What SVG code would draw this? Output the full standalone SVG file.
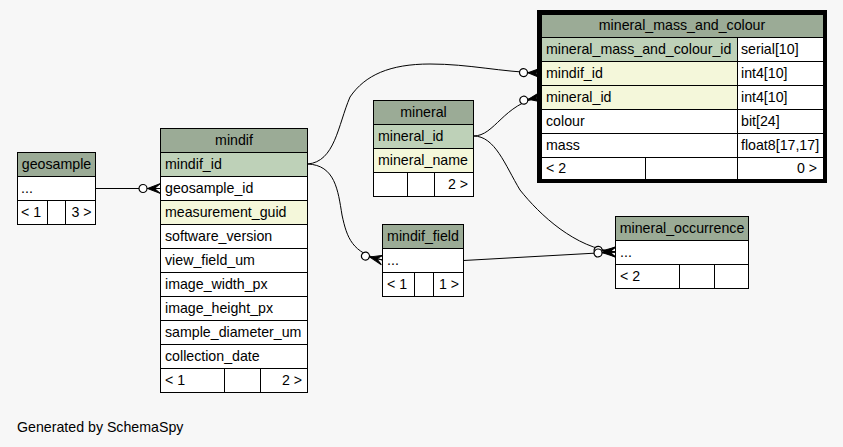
<svg xmlns="http://www.w3.org/2000/svg" width="843" height="447" viewBox="0 0 843 447">
  <style>
    rect.cell { stroke: #000; stroke-width: 1; }
    .hd { fill: #9bab96; }
    .pk { fill: #bed1b8; }
    .ix { fill: #f4f7da; }
    .bd { fill: #ffffff; }
    text { font-family: "Liberation Sans", Arial, Helvetica, sans-serif; font-size: 14.2px; fill: #000; }
    .c { text-anchor: middle; }
    .r { text-anchor: end; }
    .edge { fill: none; stroke: #000; stroke-width: 1; marker-end: url(#crowodot); }
  </style>
  <defs>
    <!-- zero-or-many end: open circle followed by crow's foot -->
    <marker id="crowodot" markerUnits="userSpaceOnUse" viewBox="0 0 24 14" markerWidth="24" markerHeight="14" refX="23" refY="7" orient="auto" overflow="visible">
      <path d="M10,7 L23,2 L17,7 L23,12 Z" fill="#000" stroke="#000" stroke-width="1"/>
      <path d="M10,7 H23" stroke="#000" stroke-width="1"/>
      <circle cx="5.5" cy="7" r="4" fill="#fff" stroke="#000" stroke-width="1.2"/>
    </marker>
  </defs>

  <rect x="0" y="0" width="843" height="447" fill="#f7f7f7"/>

  <!-- relationships -->
  <g id="connectors">
    <path class="edge" d="M95.5,188.5 L160.5,188.5"/>
    <path class="edge" d="M307.5,164 C335,165 338,190 342,215 C347,238 352,253 382.5,260"/>
    <path class="edge" d="M307.5,164 C335,162 338,125 350,97 C365,75 390,64 430,64 C470,64 500,72 541,73"/>
    <path class="edge" d="M473.5,136 C495,136 503,104 541,97"/>
    <path class="edge" d="M473.5,136 C495,136 505,165 520,190 C540,215 575,248 615.5,252"/>
    <path class="edge" d="M463.5,260.5 L615.5,252"/>
  </g>

  <g id="geosample">
    <rect class="cell hd" x="17.5" y="152.5" width="78" height="24"/>
    <text class="c" x="56.5" y="168.5">geosample</text>
    <rect class="cell bd" x="17.5" y="176.5" width="78" height="24"/>
    <text x="21" y="192.5">...</text>
    <rect class="cell bd" x="17.5" y="200.5" width="30" height="24"/>
    <rect class="cell bd" x="47.5" y="200.5" width="18" height="24"/>
    <rect class="cell bd" x="65.5" y="200.5" width="30" height="24"/>
    <text x="21" y="216.5">&lt; 1</text>
    <text class="r" x="91.5" y="216.5">3 &gt;</text>
  </g>

  <g id="mindif">
    <rect class="cell hd" x="160.5" y="128.5" width="147" height="24"/>
    <text class="c" x="234" y="144.5">mindif</text>
    <rect class="cell pk" x="160.5" y="152.5" width="147" height="24"/>
    <text x="165" y="168.5">mindif_id</text>
    <rect class="cell bd" x="160.5" y="176.5" width="147" height="24"/>
    <text x="165" y="192.5">geosample_id</text>
    <rect class="cell ix" x="160.5" y="200.5" width="147" height="24"/>
    <text x="165" y="216.5">measurement_guid</text>
    <rect class="cell bd" x="160.5" y="224.5" width="147" height="24"/>
    <text x="165" y="240.5">software_version</text>
    <rect class="cell bd" x="160.5" y="248.5" width="147" height="24"/>
    <text x="165" y="264.5">view_field_um</text>
    <rect class="cell bd" x="160.5" y="272.5" width="147" height="24"/>
    <text x="165" y="288.5">image_width_px</text>
    <rect class="cell bd" x="160.5" y="296.5" width="147" height="24"/>
    <text x="165" y="312.5">image_height_px</text>
    <rect class="cell bd" x="160.5" y="320.5" width="147" height="24"/>
    <text x="165" y="336.5">sample_diameter_um</text>
    <rect class="cell bd" x="160.5" y="344.5" width="147" height="24"/>
    <text x="165" y="360.5">collection_date</text>
    <rect class="cell bd" x="160.5" y="368.5" width="64" height="24"/>
    <rect class="cell bd" x="224.5" y="368.5" width="36" height="24"/>
    <rect class="cell bd" x="260.5" y="368.5" width="47" height="24"/>
    <text x="165" y="384.5">&lt; 1</text>
    <text class="r" x="302" y="384.5">2 &gt;</text>
  </g>

  <g id="mineral">
    <rect class="cell hd" x="373.5" y="100.5" width="100" height="24"/>
    <text class="c" x="423.5" y="116.5">mineral</text>
    <rect class="cell pk" x="373.5" y="124.5" width="100" height="24"/>
    <text x="378" y="140.5">mineral_id</text>
    <rect class="cell ix" x="373.5" y="148.5" width="100" height="24"/>
    <text x="378" y="164.5">mineral_name</text>
    <rect class="cell bd" x="373.5" y="172.5" width="34" height="24"/>
    <rect class="cell bd" x="407.5" y="172.5" width="27" height="24"/>
    <rect class="cell bd" x="434.5" y="172.5" width="39" height="24"/>
    <text class="r" x="468" y="188.5">2 &gt;</text>
  </g>

  <g id="mindif_field">
    <rect class="cell hd" x="382.5" y="224.5" width="81" height="24"/>
    <text class="c" x="423" y="240.5">mindif_field</text>
    <rect class="cell bd" x="382.5" y="248.5" width="81" height="24"/>
    <text x="387" y="264.5">...</text>
    <rect class="cell bd" x="382.5" y="272.5" width="32" height="24"/>
    <rect class="cell bd" x="414.5" y="272.5" width="19" height="24"/>
    <rect class="cell bd" x="433.5" y="272.5" width="30" height="24"/>
    <text x="387" y="288.5">&lt; 1</text>
    <text class="r" x="459" y="288.5">1 &gt;</text>
  </g>

  <g id="mineral_occurrence">
    <rect class="cell hd" x="615.5" y="216.5" width="133" height="24"/>
    <text class="c" x="682" y="232.5">mineral_occurrence</text>
    <rect class="cell bd" x="615.5" y="240.5" width="133" height="24"/>
    <text x="620" y="256.5">...</text>
    <rect class="cell bd" x="615.5" y="264.5" width="64" height="24"/>
    <rect class="cell bd" x="679.5" y="264.5" width="35" height="24"/>
    <rect class="cell bd" x="714.5" y="264.5" width="34" height="24"/>
    <text x="620" y="280.5">&lt; 2</text>
  </g>

  <g id="mineral_mass_and_colour">
    <rect class="cell hd" x="541.5" y="14.5" width="282" height="23"/>
    <text class="c" x="682" y="29.5">mineral_mass_and_colour</text>
    <rect class="cell pk" x="541.5" y="37.5" width="196" height="24"/>
    <rect class="cell bd" x="737.5" y="37.5" width="86" height="24"/>
    <text x="546" y="53.5">mineral_mass_and_colour_id</text>
    <text x="741" y="53.5">serial[10]</text>
    <rect class="cell ix" x="541.5" y="61.5" width="196" height="24"/>
    <rect class="cell bd" x="737.5" y="61.5" width="86" height="24"/>
    <text x="546" y="77.5">mindif_id</text>
    <text x="741" y="77.5">int4[10]</text>
    <rect class="cell ix" x="541.5" y="85.5" width="196" height="24"/>
    <rect class="cell bd" x="737.5" y="85.5" width="86" height="24"/>
    <text x="546" y="101.5">mineral_id</text>
    <text x="741" y="101.5">int4[10]</text>
    <rect class="cell bd" x="541.5" y="109.5" width="196" height="24"/>
    <rect class="cell bd" x="737.5" y="109.5" width="86" height="24"/>
    <text x="546" y="125.5">colour</text>
    <text x="741" y="125.5">bit[24]</text>
    <rect class="cell bd" x="541.5" y="133.5" width="196" height="24"/>
    <rect class="cell bd" x="737.5" y="133.5" width="86" height="24"/>
    <text x="546" y="149.5">mass</text>
    <text x="741" y="149.5">float8[17,17]</text>
    <rect class="cell bd" x="541.5" y="157.5" width="104" height="22"/>
    <rect class="cell bd" x="645.5" y="157.5" width="92" height="22"/>
    <rect class="cell bd" x="737.5" y="157.5" width="86" height="22"/>
    <text x="546" y="172.5">&lt; 2</text>
    <text class="r" x="817" y="172.5">0 &gt;</text>
    <!-- heavy frame marks the focus table -->
    <rect x="539" y="12" width="286" height="169" fill="none" stroke="#000" stroke-width="4"/>
  </g>

  <text x="17" y="432">Generated by SchemaSpy</text>
</svg>
